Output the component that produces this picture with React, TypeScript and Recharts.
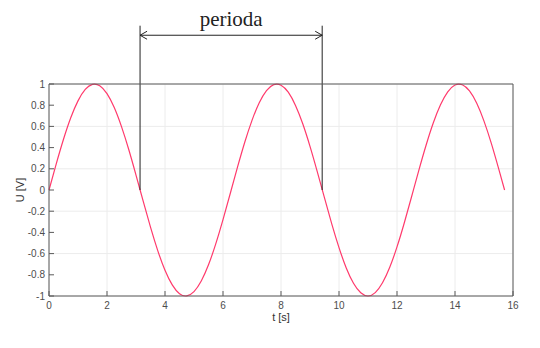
import React from "react";
import {
  LineChart,
  Line,
  XAxis,
  YAxis,
  CartesianGrid,
  ReferenceLine,
} from "recharts";

// samples of the sine curve
const time = [
  0, 0.25, 0.5, 0.75, 1, 1.25, 1.5, 1.75, 2, 2.25, 2.5, 2.75, 3, 3.25, 3.5,
  3.75, 4, 4.25, 4.5, 4.75, 5, 5.25, 5.5, 5.75, 6, 6.25, 6.5, 6.75, 7, 7.25,
  7.5, 7.75, 8, 8.25, 8.5, 8.75, 9, 9.25, 9.5, 9.75, 10, 10.25, 10.5, 10.75,
  11, 11.25, 11.5, 11.75, 12, 12.25, 12.5, 12.75, 13, 13.25, 13.5, 13.75, 14,
  14.25, 14.5, 14.75, 15, 15.25, 15.5, 15.71,
];
const voltage = [
  0, 0.247, 0.479, 0.682, 0.841, 0.949, 0.997, 0.984, 0.909, 0.778, 0.598,
  0.382, 0.141, -0.108, -0.351, -0.572, -0.757, -0.895, -0.978, -0.999,
  -0.959, -0.859, -0.706, -0.508, -0.279, -0.033, 0.215, 0.45, 0.657, 0.823,
  0.938, 0.994, 0.989, 0.923, 0.798, 0.625, 0.412, 0.174, -0.075, -0.32,
  -0.544, -0.735, -0.88, -0.97, -1, -0.968, -0.875, -0.729, -0.537, -0.311,
  -0.066, 0.183, 0.42, 0.632, 0.804, 0.926, 0.991, 0.993, 0.935, 0.818, 0.65,
  0.442, 0.206, 0,
];

const xTicks = [0, 2, 4, 6, 8, 10, 12, 14, 16];
const yTicks = [-1, -0.8, -0.6, -0.4, -0.2, 0, 0.2, 0.4, 0.6, 0.8, 1];

// "perioda" annotation (data units)
const periodStart = 3.14;
const periodEnd = 9.42;
const markerTop = 1.55;
const arrowLevel = 1.46;
const periodLabel = "perioda";

const data = time.map((t, i) => ({ t, u: voltage[i] }));

const axisColor = "#5a5a5a";
const tickFont = { fontSize: 10, fill: "#4d4d4d", fontFamily: "Liberation Sans, Arial, sans-serif" };

const Arrow = (props: any) => {
  const { x1, y1, x2, y2 } = props;
  const h = 7;
  const w = 4;
  return (
    <g>
      <line x1={x1} y1={y1} x2={x2} y2={y2} stroke="#222" strokeWidth={1} />
      <polyline
        points={`${x1 + h},${y1 - w} ${x1},${y1} ${x1 + h},${y1 + w}`}
        fill="none"
        stroke="#222"
        strokeWidth={1}
      />
      <polyline
        points={`${x2 - h},${y2 - w} ${x2},${y2} ${x2 - h},${y2 + w}`}
        fill="none"
        stroke="#222"
        strokeWidth={1}
      />
      <text
        x={(x1 + x2) / 2}
        y={y1 - 9}
        textAnchor="middle"
        fontFamily="Liberation Serif, DejaVu Serif, serif"
        fontSize={21}
        fill="#222"
      >
        {periodLabel}
      </text>
    </g>
  );
};

const App: React.FC = () => {
  return (
    <div style={{ margin: -8 }}>
      <LineChart
        width={540}
        height={348}
        data={data}
        margin={{ top: 83, right: 26, bottom: 22, left: 0 }}
      >
        <CartesianGrid stroke="#ececec" strokeWidth={1} />
        <XAxis
          dataKey="t"
          type="number"
          domain={[0, 16]}
          ticks={xTicks}
          height={30}
          stroke={axisColor}
          tickSize={-5}
          tickMargin={11}
          tick={tickFont}
          label={{
            value: "t [s]",
            position: "insideBottom",
            offset: 5,
            fontSize: 11,
            fill: "#333",
            fontFamily: "Liberation Sans, Arial, sans-serif",
          }}
        />
        <XAxis
          xAxisId="top"
          orientation="top"
          dataKey="t"
          type="number"
          domain={[0, 16]}
          ticks={xTicks}
          height={1}
          stroke={axisColor}
          tickSize={-5}
          tick={false}
        />
        <YAxis
          type="number"
          domain={[-1, 1]}
          ticks={yTicks}
          width={49}
          stroke={axisColor}
          tickSize={-5}
          tickMargin={9}
          tick={tickFont}
          label={{
            value: "U [V]",
            angle: -90,
            position: "insideLeft",
            offset: 20,
            fontSize: 11,
            fill: "#333",
            fontFamily: "Liberation Sans, Arial, sans-serif",
            style: { textAnchor: "middle" },
          }}
        />
        <YAxis
          yAxisId="right"
          orientation="right"
          type="number"
          domain={[-1, 1]}
          ticks={yTicks}
          width={1}
          stroke={axisColor}
          tickSize={-5}
          tick={false}
        />
        <Line
          dataKey="u"
          type="natural"
          stroke="#ff3a6c"
          strokeWidth={1.2}
          dot={false}
          isAnimationActive={false}
        />
        <ReferenceLine
          segment={[
            { x: periodStart, y: 0 },
            { x: periodStart, y: markerTop },
          ]}
          stroke="#222"
          ifOverflow="visible"
        />
        <ReferenceLine
          segment={[
            { x: periodEnd, y: 0 },
            { x: periodEnd, y: markerTop },
          ]}
          stroke="#222"
          ifOverflow="visible"
        />
        <ReferenceLine
          segment={[
            { x: periodStart, y: arrowLevel },
            { x: periodEnd, y: arrowLevel },
          ]}
          ifOverflow="visible"
          shape={Arrow}
        />
      </LineChart>
    </div>
  );
};

export default App;
